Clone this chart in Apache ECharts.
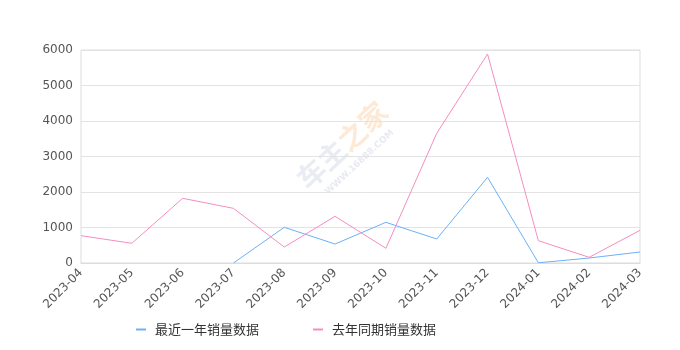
<!DOCTYPE html>
<html><head><meta charset="utf-8">
<script src="https://cdn.jsdelivr.net/npm/echarts@6/dist/echarts.min.js"></script>
<style>html,body{margin:0;padding:0;background:#fff}#c{width:680px;height:350px}</style>
</head><body><div id="c"></div>
<script>
const categories = ['2023-04','2023-05','2023-06','2023-07','2023-08','2023-09','2023-10','2023-11','2023-12','2024-01','2024-02','2024-03'];
const recentYear = [null, null, null, 0, 1005, 535, 1146, 676, 2413, 5, 140, 310];
const lastYear = [770, 555, 1822, 1540, 450, 1315, 414, 3653, 5887, 628, 160, 921];
const seriesNames = ['最近一年销量数据', '去年同期销量数据'];
const yTicks = [0, 1000, 2000, 3000, 4000, 5000, 6000];

const chart = echarts.init(document.getElementById('c'));
chart.setOption({
  animation: false,
  grid: { left: 81, right: 40, top: 50, bottom: 87, show: true, borderColor: '#ddd', borderWidth: 1 },
  legend: {
    top: 318, left: 131, itemGap: 54, itemWidth: 10, itemHeight: 2,
    icon: 'rect',
    textStyle: { color: '#333', fontSize: 13, fontFamily: 'Noto Sans CJK SC', padding: [0, 0, 0, 4] },
    data: seriesNames
  },
  graphic: [{
    type: 'group', x: 312, y: 195, rotation: Math.PI * 43 / 180,
    children: [
      { type: 'text', x: 0, y: -30, style: { text: '{a|车主}{b|之家}', rich: {
          a: { font: 'bold 28px "Noto Sans CJK SC"', fill: 'rgba(215,220,232,0.55)' },
          b: { font: 'bold 28px "Noto Sans CJK SC"', fill: 'rgba(250,215,180,0.55)' } } } },
      { type: 'text', x: 12, y: 4, style: { text: 'WWW.16888.COM', font: 'bold 9px "DejaVu Sans"', fill: 'rgba(215,220,232,0.6)' } }
    ]
  }],
  xAxis: {
    type: 'category', data: categories, boundaryGap: false,
    axisLine: { lineStyle: { color: '#ddd' } },
    axisTick: { show: false },
    axisLabel: { rotate: 45, color: '#555', fontSize: 12, margin: 8, fontFamily: 'DejaVu Sans' }
  },
  yAxis: {
    type: 'value', min: yTicks[0], max: yTicks[yTicks.length - 1], interval: 1000,
    axisLine: { show: false }, axisTick: { show: false },
    splitLine: { lineStyle: { color: '#e3e3e3' } },
    axisLabel: { color: '#555', fontSize: 12, margin: 8, fontFamily: 'DejaVu Sans', formatter: v => String(v) }
  },
  series: [
    { name: seriesNames[0], type: 'line', data: recentYear, symbol: 'none', lineStyle: { width: 1, color: '#6cb0f6' }, itemStyle: { color: '#6cb0f6' } },
    { name: seriesNames[1], type: 'line', data: lastYear, symbol: 'none', lineStyle: { width: 1, color: '#f48dc0' }, itemStyle: { color: '#f48dc0' } }
  ]
});
</script></body></html>
